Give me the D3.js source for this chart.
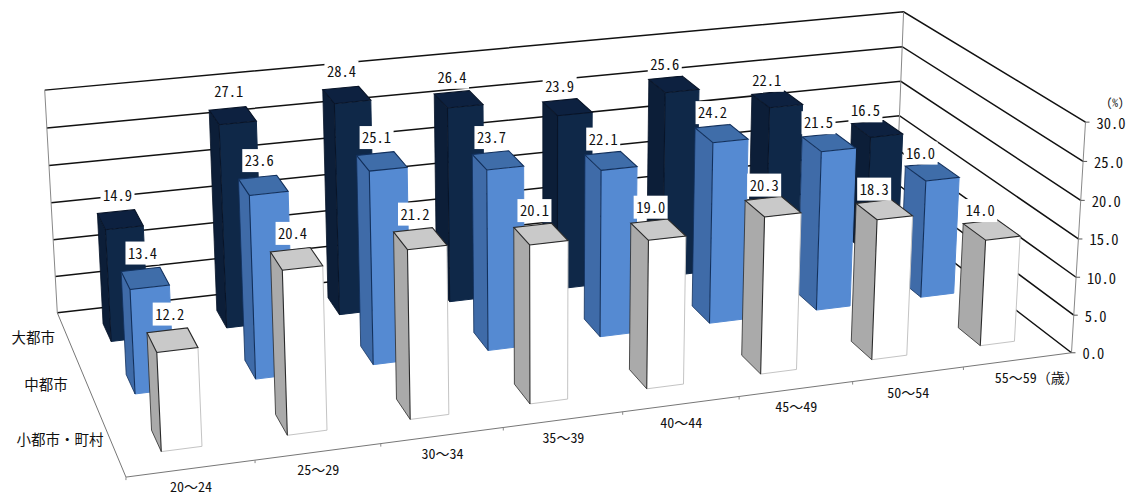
<!DOCTYPE html>
<html><head><meta charset="utf-8">
<script src="https://cdn.jsdelivr.net/npm/d3@7"></script>
<style>
html,body{margin:0;padding:0;background:#fff;overflow:hidden}
svg{display:block}
text{font-family:"Noto Sans CJK JP","Noto Sans CJK SC",sans-serif;fill:#111;font-feature-settings:"hwid"}
tspan.fw{font-feature-settings:"fwid"}
</style></head><body>
<svg id="c" width="1129" height="497"></svg>
<script>
const ageGroups=["20～24","25～29","30～34","35～39","40～44","45～49","50～54","55～59"];
const cityTypes=["小都市・町村","中都市","大都市"];
const smallCity=[12.2,20.4,21.2,20.1,19.0,20.3,18.3,14.0];
const midCity=[13.4,23.6,25.1,23.7,22.1,24.2,21.5,16.0];
const bigCity=[14.9,27.1,28.4,26.4,23.9,25.6,22.1,16.5];
const yTicks=[0,5,10,15,20,25,30];
const cityLabelShiftX=[-7,1,8];
const cityLabelShiftY=[-12,-10,-4];

const svg=d3.select("#c");
// camera fit from the box corners of the frame (u:0-1 along ages, v:0-1 depth, z:0-1 height)
const anchors=[[0,1,0,57,313],[1,1,0,897,217],[1,0,0,1070,353],[0,0,0,126,477],[0,1,1,45,90],[1,1,1,902,12],[1,0,1,1087,122]];
function solveCamera(pts){
  const A=[],b=[];
  pts.forEach(([u,v,z,x,y])=>{
    A.push([u,v,z,1,0,0,0,0,-x*u,-x*v,-x*z]);b.push(x);
    A.push([0,0,0,0,u,v,z,1,-y*u,-y*v,-y*z]);b.push(y);
  });
  const n=11,M=d3.range(n).map(i=>d3.range(n+1).map(j=>j<n?d3.sum(A,r=>r[i]*r[j]):d3.sum(A,(r,k)=>r[i]*b[k])));
  for(let i=0;i<n;i++){
    let p=i;for(let r=i+1;r<n;r++)if(Math.abs(M[r][i])>Math.abs(M[p][i]))p=r;
    [M[i],M[p]]=[M[p],M[i]];
    for(let r=0;r<n;r++)if(r!==i){const f=M[r][i]/M[i][i];for(let c=i;c<=n;c++)M[r][c]-=f*M[i][c];}
  }
  return M.map((r,i)=>r[n]/r[i]);
}
const cam=solveCamera(anchors);
function proj(u,v,z){const w=cam[8]*u+cam[9]*v+cam[10]*z+1;
  return [(cam[0]*u+cam[1]*v+cam[2]*z+cam[3])/w,(cam[4]*u+cam[5]*v+cam[6]*z+cam[7])/w];}

const xBand=d3.scaleBand().domain(ageGroups).range([0,1]).paddingInner(0.68).paddingOuter(0.34);
const xCell=d3.scaleBand().domain(ageGroups).range([0,1]);
const yBand=d3.scaleBand().domain(cityTypes).range([0,1]).paddingInner(0.64).paddingOuter(0.32);
const yCell=d3.scaleBand().domain(cityTypes).range([0,1]);
const zS=d3.scaleLinear().domain([0,30]).range([0,1]);
const path=d3.line();

// grid
const grid=svg.append("g");
yTicks.forEach(t=>{
  grid.append("path").attr("d",path([proj(0,1,zS(t)),proj(1,1,zS(t)),proj(1,0,zS(t))]))
    .attr("fill","none").attr("stroke","#111").attr("stroke-width",1.5);
});
const thin=[[[0,1,0],[0,1,1]],[[1,1,0],[1,1,1]],[[1,0,0],[1,0,1]],[[0,1,0],[0,0,0]],[[0,0,0],[1,0,0]]];
thin.forEach(([a,b],i)=>grid.append("path").attr("d",path([proj(...a),proj(...b)]))
  .attr("fill","none").attr("stroke",i>2?"#777":"#888").attr("stroke-width",1));
// ticks
ageGroups.forEach((g,i)=>{const u=xCell(g);const p=proj(u,0,0);
  grid.append("path").attr("d",path([p,[p[0],p[1]+3]])).attr("stroke","#888");});
yTicks.forEach(t=>{const p=proj(1,0,zS(t));
  grid.append("path").attr("d",path([p,[p[0]+4,p[1]]])).attr("stroke","#555");});

// bars: back rows first, right to left
const series=[
 {name:"大都市",values:bigCity,front:"#0f2848",side:"#0c1e38",top:"#0d2140",edge:"#081428",rim:"#0f2848"},
 {name:"中都市",values:midCity,front:"#558ad2",side:"#3f6ba8",top:"#3f6da9",edge:"#12305c",rim:"#558ad2"},
 {name:"小都市・町村",values:smallCity,front:"#ffffff",side:"#aaaaaa",top:"#c9c9c9",edge:"#2a2a2a",rim:"#c4c4c4"}
];
const bars=svg.append("g");
series.forEach(s=>{
  const v0=yBand(s.name),v1=v0+yBand.bandwidth();
  ageGroups.map((g,i)=>i).reverse().forEach(i=>{
    const u0=xBand(ageGroups[i]),u1=u0+xBand.bandwidth(),z=zS(s.values[i]);
    const fbl=proj(u0,v0,0),fbr=proj(u1,v0,0),ftl=proj(u0,v0,z),ftr=proj(u1,v0,z);
    const bbl=proj(u0,v1,0),btl=proj(u0,v1,z),btr=proj(u1,v1,z);
    const g=bars.append("g");
    g.append("path").attr("d",path([bbl,btl,ftl,fbl])+"Z").attr("fill",s.side);
    g.append("path").attr("d",path([btl,btr,ftr,ftl])+"Z").attr("fill",s.top);
    g.append("path").attr("d",path([ftl,ftr,fbr,fbl])+"Z").attr("fill",s.front);
    g.append("path").attr("d",path([ftr,fbr,fbl])).attr("fill","none").attr("stroke",s.rim).attr("stroke-width",1);
    g.append("path").attr("d",path([fbl,ftl,ftr,btr,btl,ftl])).attr("fill","none").attr("stroke",s.edge).attr("stroke-width",1.1);
    g.append("path").attr("d",path([fbl,bbl,btl])).attr("fill","none").attr("stroke",s.edge).attr("stroke-width",.8);
  });
});

// data labels
const labels=svg.append("g");
series.forEach(s=>{
  const vc=yBand(s.name)+yBand.bandwidth()/2;
  s.values.forEach((val,i)=>{
    const uc=xBand(ageGroups[i])+xBand.bandwidth()/2;
    const p=proj(uc,vc,zS(val+2.5));
    const cx=p[0]-1-12*uc,cy=p[1]-6+6*uc;
    labels.append("rect").attr("x",cx-17).attr("y",cy-11.5).attr("width",34).attr("height",23).attr("fill","#fff");
    labels.append("text").attr("x",cx).attr("y",cy+5.5).attr("text-anchor","middle").attr("font-size",14.5).text(val.toFixed(1));
  });
});

// axis text
yTicks.forEach(t=>{const p=proj(1,0,zS(t));
  svg.append("text").attr("x",p[0]+11).attr("y",p[1]+6.5).attr("font-size",14.5).text(t.toFixed(1));});
const axisTop=proj(1,0,1);
svg.append("text").attr("x",axisTop[0]+21).attr("y",axisTop[1]-15).attr("font-size",11.5).text("(%)");
function ageLabel(sel,g){
  const [a,b]=g.split("～");
  sel.append("tspan").text(a);
  sel.append("tspan").attr("class","fw").text("～");
  sel.append("tspan").text(b);
}
ageGroups.forEach((g,i)=>{const p=proj(xCell(g)+xCell.bandwidth()/2,0,0);
  const t=svg.append("text").attr("x",p[0]).attr("y",p[1]+23.5).attr("font-size",14);
  ageLabel(t,g);
  if(i===ageGroups.length-1){t.attr("text-anchor","start").attr("x",p[0]-23);
    t.append("tspan").attr("class","fw").text("（歳）");}
  else t.attr("text-anchor","middle");
});
cityTypes.forEach((c,i)=>{const p=proj(-0.045,yCell(c)+yCell.bandwidth()/2,0);
  svg.append("text").attr("x",p[0]+cityLabelShiftX[i]).attr("y",p[1]+5+cityLabelShiftY[i]).attr("text-anchor","middle").attr("font-size",14.5).text(c);});
</script></body></html>
